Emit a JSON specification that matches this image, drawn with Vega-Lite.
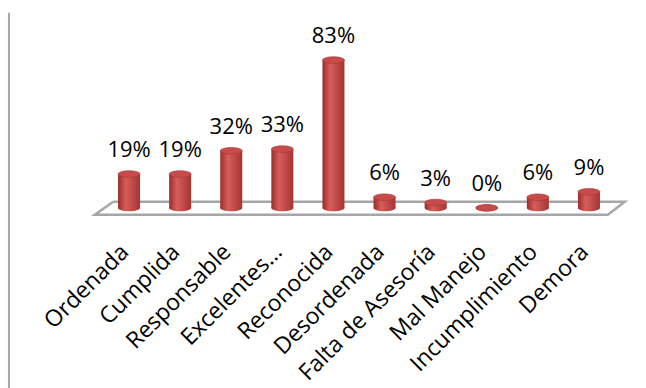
{
  "$schema": "https://vega.github.io/schema/vega-lite/v6.json",
  "width": 511,
  "height": 203,
  "autosize": {"type": "none"},
  "padding": {"left": 103.5, "top": 12, "right": 31.5, "bottom": 173},
  "background": "white",
  "config": {"view": {"stroke": null}, "font": "Open Sans"},
  "datasets": {
    "bars": [
      {"cat": "Ordenada", "v": 0.19},
      {"cat": "Cumplida", "v": 0.19},
      {"cat": "Responsable", "v": 0.32},
      {"cat": "Excelentes…", "v": 0.33},
      {"cat": "Reconocida", "v": 0.83},
      {"cat": "Desordenada", "v": 0.06},
      {"cat": "Falta de Asesoría", "v": 0.03},
      {"cat": "Mal Manejo", "v": 0.0},
      {"cat": "Incumplimiento", "v": 0.06},
      {"cat": "Demora", "v": 0.09}
    ],
    "floor": [
      {"fx": 0.19, "fy": 0.034, "o": 1},
      {"fx": 10.2, "fy": 0.034, "o": 2},
      {"fx": 9.87, "fy": -0.039, "o": 3},
      {"fx": -0.17, "fy": -0.039, "o": 4},
      {"fx": 0.19, "fy": 0.034, "o": 5}
    ],
    "frame": [{"fx": -1.85, "fy": 1.096, "fy2": -1.011}]
  },
  "resolve": {"scale": {"x": "independent"}},
  "layer": [
    {
      "data": {"name": "frame"},
      "mark": {"type": "rule", "color": "#a6a6a6", "strokeWidth": 2},
      "encoding": {
        "x": {"field": "fx", "type": "quantitative", "scale": {"domain": [0, 10], "nice": false, "zero": false}, "axis": null},
        "y": {"field": "fy", "type": "quantitative", "scale": {"domain": [-0.04, 1.1], "nice": false, "zero": false}, "axis": null},
        "y2": {"field": "fy2"}
      }
    },
    {
      "data": {"name": "floor"},
      "mark": {"type": "line", "color": "#a6a6a6", "strokeWidth": 2.5, "strokeJoin": "miter"},
      "encoding": {
        "x": {"field": "fx", "type": "quantitative", "scale": {"domain": [0, 10], "nice": false, "zero": false}, "axis": null},
        "y": {"field": "fy", "type": "quantitative", "axis": null},
        "order": {"field": "o", "type": "quantitative"}
      }
    },
    {
      "data": {"name": "bars"},
      "encoding": {
        "x": {
          "field": "cat", "type": "nominal", "sort": null,
          "scale": {"paddingInner": 0, "paddingOuter": 0},
          "axis": {
            "title": null, "domain": false, "ticks": false,
            "labelAngle": -45, "labelAlign": "right", "labelBaseline": "middle",
            "labelFont": "Open Sans", "labelFontSize": 23, "labelColor": "#000000",
            "labelPadding": 33, "labelOffset": -4, "labelOverlap": false, "labelLimit": 300
          }
        }
      },
      "layer": [
        {
          "mark": {
            "type": "point", "filled": true, "opacity": 1, "size": 484, "strokeWidth": 0,
            "shape": "M -1 0 A 1 0.3 0 1 0 1 0 A 1 0.3 0 1 0 -1 0 Z",
            "fill": {"gradient": "linear", "x1": 0, "y1": 0, "x2": 1, "y2": 0,
              "stops": [{"offset": 0, "color": "#9a2c2a"}, {"offset": 0.35, "color": "#d65e5b"}, {"offset": 1, "color": "#a53432"}]}
          },
          "encoding": {"y": {"datum": 0, "type": "quantitative", "axis": null}}
        },
        {
          "mark": {
            "type": "bar", "width": 22,
            "fill": {"gradient": "linear", "x1": 0, "y1": 0, "x2": 1, "y2": 0,
              "stops": [{"offset": 0, "color": "#9a2c2a"}, {"offset": 0.35, "color": "#d65e5b"}, {"offset": 1, "color": "#a53432"}]}
          },
          "encoding": {
            "y": {"field": "v", "type": "quantitative", "axis": null},
            "y2": {"datum": 0}
          }
        },
        {
          "mark": {
            "type": "point", "filled": true, "opacity": 1, "size": 484,
            "shape": "M -1 0 A 1 0.3 0 1 0 1 0 A 1 0.3 0 1 0 -1 0 Z",
            "fill": "#c94b49", "stroke": "#a23634", "strokeWidth": 0.6
          },
          "encoding": {"y": {"field": "v", "type": "quantitative", "axis": null}}
        },
        {
          "mark": {"type": "text", "font": "Open Sans", "fontSize": 22, "color": "#000000", "baseline": "alphabetic", "dy": -17},
          "encoding": {
            "y": {"field": "v", "type": "quantitative", "axis": null},
            "text": {"field": "v", "type": "quantitative", "format": ".0%"}
          }
        }
      ]
    }
  ]
}
